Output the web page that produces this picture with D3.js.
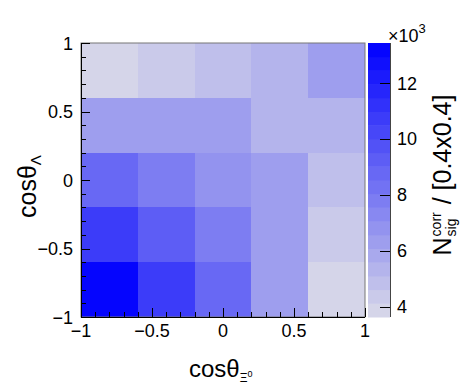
<!DOCTYPE html>
<html>
<head>
<meta charset="utf-8">
<script src="https://cdn.jsdelivr.net/npm/d3@7"></script>
<style>
  html, body { margin: 0; padding: 0; background: #fff; }
  svg { display: block; font-family: "Liberation Sans", Arial, Helvetica, sans-serif; }
</style>
</head>
<body>
<svg id="chart" width="464" height="385"></svg>
<script>
// Bin edges of cos(theta) along both axes
const xEdges = [-1, -0.6, -0.2, 0.2, 0.6, 1];
const yEdges = [-1, -0.6, -0.2, 0.2, 0.6, 1];

// Corrected signal yield per bin (x10^3), one row per cos(theta_Lambda) bin (bottom to top)
const row1 = [13.3, 10.74, 8.63, 6.15, 3.86];
const row2 = [10.65, 9.21, 7.68, 6.15, 4.45];
const row3 = [8.63, 7.64, 6.65, 6.15, 5.08];
const row4 = [6.15, 6.15, 6.15, 5.53, 5.53];
const row5 = [3.86, 4.45, 4.99, 5.53, 6.15];
const rows = [row1, row2, row3, row4, row5];

const axisTicks = [-1, -0.5, 0, 0.5, 1];
const zTicks = [4, 6, 8, 10, 12];
const zRange = [3.64, 13.43];
const nLevels = 20;

const svg = d3.select("#chart");
const L = 81, R = 365, T = 43, B = 317;
const x = d3.scaleLinear().domain([-1, 1]).range([L, R]);
const y = d3.scaleLinear().domain([-1, 1]).range([B, T]);

// Palette: light grey-lavender to pure blue, in discrete contour levels
const colorLo = d3.rgb(218, 218, 232), colorHi = d3.rgb(0, 0, 255);
const interp = d3.interpolateRgb(colorLo, colorHi);
const levelWidth = (zRange[1] - zRange[0]) / nLevels;
function levelOf(v) {
  return Math.max(0, Math.min(nLevels - 1, Math.floor((v - zRange[0]) / levelWidth)));
}
function colorOf(v) { return interp((levelOf(v) + 0.5) / nLevels); }

// Cells
const cells = [];
rows.forEach((r, j) => r.forEach((v, i) => cells.push({ i, j, v })));
svg.append("g").selectAll("rect").data(cells).join("rect")
  .attr("x", d => x(xEdges[d.i]))
  .attr("y", d => y(yEdges[d.j + 1]))
  .attr("width", d => x(xEdges[d.i + 1]) - x(xEdges[d.i]))
  .attr("height", d => y(yEdges[d.j]) - y(yEdges[d.j + 1]))
  .attr("fill", d => colorOf(d.v))
  .attr("shape-rendering", "crispEdges");

// Frame
svg.append("rect").attr("x", L).attr("y", T).attr("width", R - L).attr("height", B - T)
  .attr("fill", "none").attr("stroke", "#777").attr("stroke-width", 1);

const fmt = v => (v < 0 ? "\u2212" : "") + Math.abs(v);
const minor = d3.range(-1, 1.0001, 0.1).map(v => Math.round(v * 10) / 10);

// Bottom axis: ticks pointing into the frame
const gx = svg.append("g");
gx.append("line").attr("x1", L).attr("x2", R).attr("y1", B + 0.5).attr("y2", B + 0.5).attr("stroke", "#000");
gx.selectAll(".mn").data(minor).join("line")
  .attr("x1", d => Math.round(x(d)) + 0.5).attr("x2", d => Math.round(x(d)) + 0.5)
  .attr("y1", B).attr("y2", d => axisTicks.includes(d) ? B - 9 : B - 5)
  .attr("stroke", "#000");
gx.selectAll("text").data(axisTicks).join("text")
  .attr("x", d => x(d)).attr("y", 337)
  .attr("text-anchor", "middle").attr("font-size", 18).text(fmt);

// Left axis
const gy = svg.append("g");
gy.append("line").attr("x1", L + 0.5).attr("x2", L + 0.5).attr("y1", T).attr("y2", B).attr("stroke", "#000");
gy.selectAll(".mn").data(minor).join("line")
  .attr("y1", d => Math.round(y(d)) + 0.5).attr("y2", d => Math.round(y(d)) + 0.5)
  .attr("x1", L).attr("x2", d => axisTicks.includes(d) ? L + 9 : L + 5)
  .attr("stroke", "#000");
gy.selectAll("text").data(axisTicks).join("text")
  .attr("x", 73).attr("y", d => y(d) + 6.5)
  .attr("text-anchor", "end").attr("font-size", 18).text(fmt);

// Axis titles
const xt = svg.append("text").attr("x", 189).attr("y", 377).attr("font-size", 24);
xt.append("tspan").text("cos\u03b8");
xt.append("tspan").attr("font-size", 12).attr("dy", 5).text("\u039e");
xt.append("tspan").attr("font-size", 9).attr("dy", -5).text("0");

const yt = svg.append("text").attr("transform", "translate(36,218) rotate(-90)").attr("font-size", 25);
yt.append("tspan").text("cos\u03b8");
yt.append("tspan").attr("font-size", 15).attr("dy", 5).text("\u039b");

// Colour bar
const CL = 368, CR = 390;
const z = d3.scaleLinear().domain(zRange).range([B, T]);
const bands = d3.range(nLevels);
svg.append("g").selectAll("rect").data(bands).join("rect")
  .attr("x", CL).attr("width", CR - CL)
  .attr("y", k => z(zRange[0] + (k + 1) * levelWidth))
  .attr("height", k => z(zRange[0] + k * levelWidth) - z(zRange[0] + (k + 1) * levelWidth) + 0.5)
  .attr("fill", k => interp((k + 0.5) / nLevels));
svg.append("line").attr("x1", CR + 0.5).attr("x2", CR + 0.5).attr("y1", T).attr("y2", B).attr("stroke", "#444");
svg.append("g").selectAll("line").data(zTicks).join("line")
  .attr("x1", CR).attr("x2", CR - 10)
  .attr("y1", d => Math.round(z(d)) + 0.5).attr("y2", d => Math.round(z(d)) + 0.5)
  .attr("stroke", "#000");
svg.append("g").selectAll("text").data(zTicks).join("text")
  .attr("x", 397).attr("y", d => z(d) + 6.5)
  .attr("font-size", 18).text(d => d);

const ex = svg.append("text").attr("x", 388).attr("y", 42).attr("font-size", 18);
ex.append("tspan").text("\u00d710");
ex.append("tspan").attr("font-size", 13).attr("dy", -9).text("3");

// Colour bar title, rotated, built from pieces so corr/sig stack
const zt = svg.append("g").attr("transform", "translate(451,0) rotate(-90)");
const fs = 25;
const pN = zt.append("text").attr("font-size", fs).attr("x", 0).attr("y", 0).text("N");
const wN = pN.node().getComputedTextLength();
const pC = zt.append("text").attr("font-size", 14).attr("x", wN + 1).attr("y", -10).text("corr");
const pS = zt.append("text").attr("font-size", 14).attr("x", wN + 1).attr("y", 5).text("sig");
const wCS = Math.max(pC.node().getComputedTextLength(), pS.node().getComputedTextLength());
const pR = zt.append("text").attr("font-size", fs).attr("x", wN + wCS + 2).attr("y", 0).attr("xml:space", "preserve").text(" / [0.4x0.4]");
const total = wN + wCS + 2 + pR.node().getComputedTextLength();
const cy = 175;
zt.selectAll("text").attr("transform", `translate(${-cy - total / 2},0)`);
</script>
</body>
</html>
